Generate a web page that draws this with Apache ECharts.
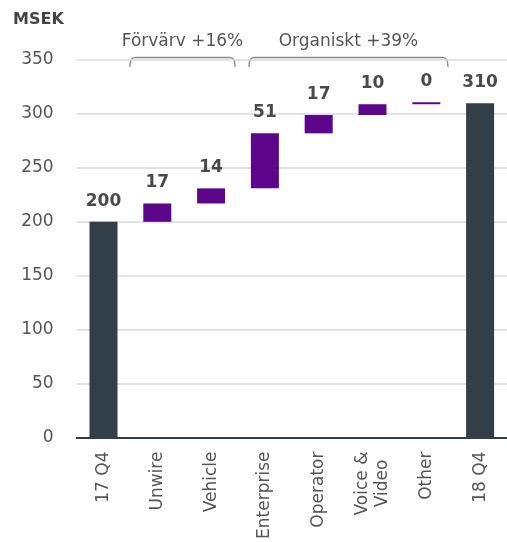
<!DOCTYPE html>
<html>
<head>
<meta charset="utf-8">
<script src="https://cdn.jsdelivr.net/npm/echarts@6/dist/echarts.min.js"></script>
<style>html,body{margin:0;padding:0;background:#fff}#c{width:507px;height:542px}</style>
</head>
<body>
<div id="c"></div>
<script>
const categories = ['17 Q4', 'Unwire', 'Vehicle', 'Enterprise', 'Operator', 'Voice &\nVideo', 'Other', '18 Q4'];
const values = [200, 17, 14, 51, 17, 10, 0, 310];
const isTotal = [true, false, false, false, false, false, false, true];
const yTicks = { min: 0, max: 350, interval: 50 };
const groupLabels = ['Förvärv +16%', 'Organiskt +39%'];
const groupSpans = [[0.97, 2.89], [3.14, 6.77]]; // in category bands from left

const FONT = '"DejaVu Sans", sans-serif';
const TXT = '#555555';
const DARK = '#333f48';
const PURPLE = '#5c068c';

// running sum for waterfall bases
const bases = [];
let run = 0;
values.forEach((v, i) => {
  if (isTotal[i]) { bases.push(0); run = v; }
  else { bases.push(run); run += v; }
});

const G = { left: 76.6, top: 60, width: 438.9, height: 377.7 };
const band = G.width / categories.length;

const graphic = [];
groupLabels.forEach((t, k) => {
  const x1 = G.left + groupSpans[k][0] * band;
  const x2 = G.left + groupSpans[k][1] * band;
  const yt = 57.5, yb = 67, r = 5;
  const st = { stroke: '#8a8a8a', lineWidth: 1.3, fill: null };
  graphic.push({ type: 'bezierCurve', shape: { x1: x1, y1: yb, x2: x1 + r, y2: yt, cpx1: x1, cpy1: yt }, style: st });
  graphic.push({ type: 'line', shape: { x1: x1 + r, y1: yt, x2: x2 - r, y2: yt }, style: st });
  graphic.push({ type: 'bezierCurve', shape: { x1: x2 - r, y1: yt, x2: x2, y2: yb, cpx1: x2, cpy1: yt }, style: st });
  graphic.push({ type: 'text', x: (x1 + x2) / 2, y: 42, style: { text: t, font: '17px ' + FONT, fill: TXT, textAlign: 'center', textVerticalAlign: 'middle' } });
});
graphic.push({ type: 'text', x: 13, y: 20, style: { text: 'MSEK', font: 'bold 16px ' + FONT, fill: '#444', textAlign: 'left', textVerticalAlign: 'middle' } });

const chart = echarts.init(document.getElementById('c'), null, { renderer: 'canvas' });
chart.setOption({
  animation: false,
  grid: { left: G.left, top: G.top, width: G.width, height: G.height },
  graphic: graphic,
  xAxis: {
    type: 'category',
    data: categories,
    axisTick: { show: false },
    axisLine: { lineStyle: { color: DARK, width: 2 } },
    axisLabel: {
      rotate: 90, margin: 14, interval: 0,
      formatter: v => v.split('\n').map(s => '{c|' + s + '}').join('\n'),
      rich: { c: { align: 'center', fontSize: 17, fontFamily: FONT, color: TXT, lineHeight: 20 } }
    }
  },
  yAxis: {
    type: 'value', min: yTicks.min, max: yTicks.max, interval: yTicks.interval,
    axisLine: { show: false }, axisTick: { show: false },
    splitLine: { lineStyle: { color: '#d9d9d9', width: 1.5 } },
    axisLabel: { fontSize: 17, fontFamily: FONT, color: TXT, margin: 23 }
  },
  series: [
    {
      type: 'bar', stack: 'w', barWidth: 28, silent: true,
      itemStyle: { color: 'transparent' },
      data: bases
    },
    {
      type: 'bar', stack: 'w', barWidth: 28, barMinHeight: 2,
      data: values.map((v, i) => ({ value: v, itemStyle: { color: isTotal[i] ? DARK : PURPLE } })),
      label: {
        show: true, position: 'top', distance: 12,
        fontSize: 17, fontWeight: 'bold', fontFamily: FONT, color: '#4a4a4a',
        formatter: p => String(values[p.dataIndex])
      }
    }
  ]
});
</script>
</body>
</html>
